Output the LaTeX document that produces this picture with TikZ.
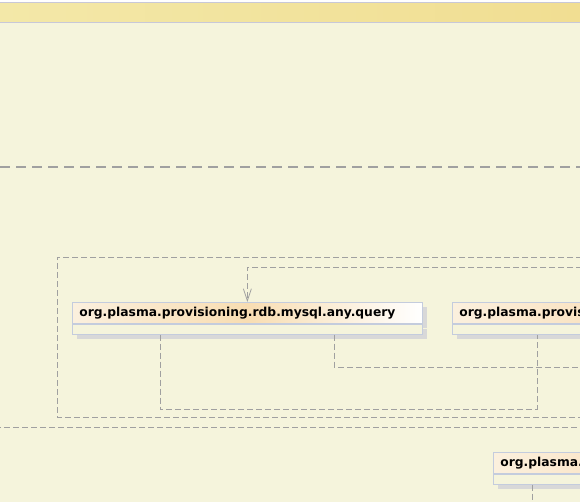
\documentclass[tikz,border=0pt]{standalone}
\usepackage{fontspec}
\setsansfont{DejaVu Sans}
\usetikzlibrary{arrows.meta, positioning, shadows}

\definecolor{paper}{HTML}{F5F4DC}
\definecolor{bandL}{HTML}{F3E8A8}
\definecolor{bandR}{HTML}{F1DE92}
\definecolor{bandline}{HTML}{C8C8D8}
\definecolor{boxline}{HTML}{C4CCDD}
\definecolor{titleL}{HTML}{FBF0DE}
\definecolor{titleM}{HTML}{F8DDB2}
\definecolor{linegray}{HTML}{A0A0A0}
\definecolor{shadowgray}{HTML}{D8D8D8}

\begin{document}
\begin{tikzpicture}[
    x=1pt, y=-1pt,
    title/.style={rectangle, draw=boxline, line width=0.8pt, anchor=north west,
        text width=336pt, inner xsep=7pt, inner ysep=0pt, minimum height=21pt,
        align=left, font=\sffamily\bfseries\fontsize{12.3}{14}\selectfont,
        drop shadow={shadow xshift=5pt, shadow yshift=-5pt, fill=shadowgray, opacity=1}},
    compart/.style={rectangle, draw=boxline, line width=0.8pt, fill=paper, anchor=north west,
        minimum width=350pt, minimum height=10pt, inner sep=0pt,
        drop shadow={shadow xshift=5pt, shadow yshift=-5pt, fill=shadowgray, opacity=1}},
    dep/.style={draw=linegray, line width=0.8pt, dash pattern=on 6pt off 3pt},
    arrow/.style={dep, -{Straight Barb[length=12pt, width=8pt]}}
]

\useasboundingbox (0,0) rectangle (580,502);
\fill[white] (0,0) rectangle (580,2);
\fill[paper] (0,2) rectangle (580,502);

% header band
\shade[left color=bandL, right color=bandR] (0,3) rectangle (580,23);
\draw[bandline, line width=1pt] (0,2.5) -- (580,2.5);
\draw[bandline, line width=1pt] (0,23) -- (580,23);

% separators and frame
\draw[linegray, line width=2pt, dash pattern=on 10pt off 6pt] (0,167) -- (580,167);
\draw[dep] (600,257) -| (57,417) -- (600,417);
\draw[dep] (-5,427) -- (600,427);

% classes
\node[title, left color=titleL, right color=white, middle color=titleM] (query) at (72,302) {org.plasma.provisioning.rdb.mysql.any.query};
\node[compart] (queryc) at (query.south west) {};

\node[title, left color=titleL, right color=titleM!85!orange] (model) at (452,302) {org.plasma.provisioning.rdb.mysql};
\node[compart] (modelc) at (model.south west) {};

\node[title, left color=titleL, right color=titleM!85!orange] (rdb) at (493,452) {org.plasma.provisioning.rdb};
\node[compart] (rdbc) at (rdb.south west) {};

\coordinate (in) at (600,267);
\coordinate (out) at (600,367);

% dependencies
\draw[arrow] (in) -| (query.north);
\draw[dep] ([xshift=-87pt]queryc.south) -- ++(0,75) -| ([xshift=85pt]modelc.south west);
\draw[dep] ([xshift=87pt]queryc.south) |- (out);
\draw[dep] ([xshift=39pt]rdbc.south west) -- ++(0,30);

\end{tikzpicture}
\end{document}
